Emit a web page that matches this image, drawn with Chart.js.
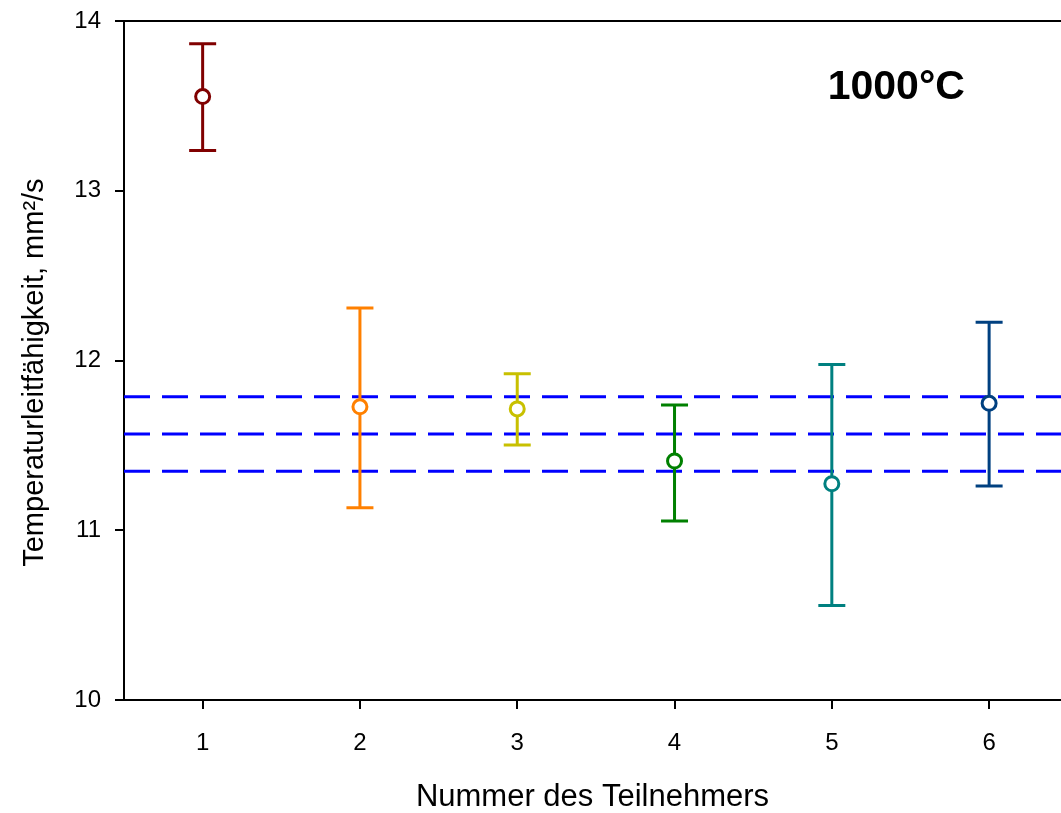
<!DOCTYPE html>
<html>
<head>
<meta charset="utf-8">
<script src="https://cdn.jsdelivr.net/npm/chart.js@4.4.0/dist/chart.umd.min.js"></script>
<style>
html,body{margin:0;padding:0;background:#fff;}
#wrap{width:1061px;height:813px;}
</style>
</head>
<body>
<div id="wrap"><canvas id="chart" width="1061" height="813"></canvas></div>
<script>
// values
const participants=[1,2,3,4,5,6];
const means=[13.555,11.727,11.715,11.408,11.274,11.748];
const upper=[13.866,12.309,11.922,11.738,11.977,12.225];
const lower=[13.237,11.132,11.502,11.054,10.556,11.261];
const colors=['#800000','#FF8000','#C8C000','#008000','#008080','#004080'];
const refLines=[11.787,11.567,11.347];
const xTicks=[1,2,3,4,5,6];
const xRange=[0.5,6.457];
const yRange=[10,14];
const tempLabel='1000°C';

const font='"Liberation Sans", Arial, sans-serif';

const errorBars={
    id:'errorBars',
    beforeDatasetDraw(chart,args){
        if(chart.data.datasets[args.index].label!=='points') return;
        const ctx=chart.ctx;
        const xs=chart.scales.x, ys=chart.scales.y;
        ctx.save();
        ctx.lineWidth=3;
        participants.forEach((p,i)=>{
            const x=xs.getPixelForValue(p);
            const yt=ys.getPixelForValue(upper[i]);
            const yb=ys.getPixelForValue(lower[i]);
            ctx.strokeStyle=colors[i];
            ctx.beginPath();
            ctx.moveTo(x,yt);ctx.lineTo(x,yb);
            ctx.moveTo(x-13.5,yt);ctx.lineTo(x+13.5,yt);
            ctx.moveTo(x-13.5,yb);ctx.lineTo(x+13.5,yb);
            ctx.stroke();
        });
        ctx.restore();
    }
};

const frameAndText={
    id:'frameAndText',
    afterDraw(chart){
        const ctx=chart.ctx;
        const a=chart.chartArea;
        ctx.save();
        ctx.strokeStyle='#000';
        ctx.lineWidth=2;
        ctx.beginPath();
        ctx.moveTo(a.left-1,a.top);ctx.lineTo(a.right,a.top);
        ctx.stroke();
        ctx.fillStyle='#000';
        ctx.font='bold 41px '+font;
        ctx.textAlign='center';
        ctx.textBaseline='middle';
        ctx.fillText(tempLabel,chart.scales.x.getPixelForValue(5.41),chart.scales.y.getPixelForValue(13.605));
        ctx.restore();
    }
};

// scale boxes with fixed size and no extra label padding
const fixBox=(size)=>(s)=>{
    if(s.isHorizontal()) s.height=size; else s.width=size;
    s.paddingTop=0;s.paddingBottom=0;s.paddingLeft=0;s.paddingRight=0;
};

const datasets=refLines.map((v)=>({
    type:'line',
    label:'ref',
    data:[{x:xRange[0],y:v},{x:xRange[1],y:v}],
    borderColor:'#0000FF',
    borderWidth:3,
    borderDash:[26,12],
    pointRadius:0,
    fill:false,
    order:2
}));
datasets.push({
    type:'scatter',
    label:'points',
    data:participants.map((p,i)=>({x:p,y:means[i]})),
    pointRadius:7,
    pointHoverRadius:7,
    pointBorderWidth:3,
    pointBackgroundColor:'#fff',
    pointBorderColor:colors,
    order:1
});

new Chart(document.getElementById('chart').getContext('2d'),{
    type:'scatter',
    data:{datasets:datasets},
    options:{
        responsive:false,
        animation:false,
        layout:{autoPadding:false,padding:{top:21,right:0,left:0,bottom:0}},
        plugins:{legend:{display:false},tooltip:{enabled:false}},
        scales:{
            x:{
                type:'linear',
                min:xRange[0],
                max:xRange[1],
                afterBuildTicks:(s)=>{s.ticks=xTicks.map((v)=>({value:v}));},
                afterFit:fixBox(113),
                grid:{display:true,drawOnChartArea:false,drawTicks:true,tickLength:9,color:'#000',lineWidth:2},
                border:{display:true,color:'#000',width:2},
                ticks:{color:'#000',padding:20,font:{family:font,size:24},maxRotation:0},
                title:{display:true,text:'Nummer des Teilnehmers',color:'#000',font:{family:font,size:31,lineHeight:1},padding:{top:0,bottom:0}}
            },
            y:{
                type:'linear',
                min:yRange[0],
                max:yRange[1],
                afterFit:fixBox(124),
                grid:{display:true,drawOnChartArea:false,drawTicks:true,tickLength:9,color:'#000',lineWidth:2},
                border:{display:true,color:'#000',width:2},
                ticks:{color:'#000',padding:14,stepSize:1,font:{family:font,size:24}},
                title:{display:true,text:'Temperaturleitfähigkeit, mm²/s   ',color:'#000',font:{family:font,size:29,lineHeight:1},padding:{top:20,bottom:0}}
            }
        }
    },
    plugins:[errorBars,frameAndText]
});
</script>
</body>
</html>
